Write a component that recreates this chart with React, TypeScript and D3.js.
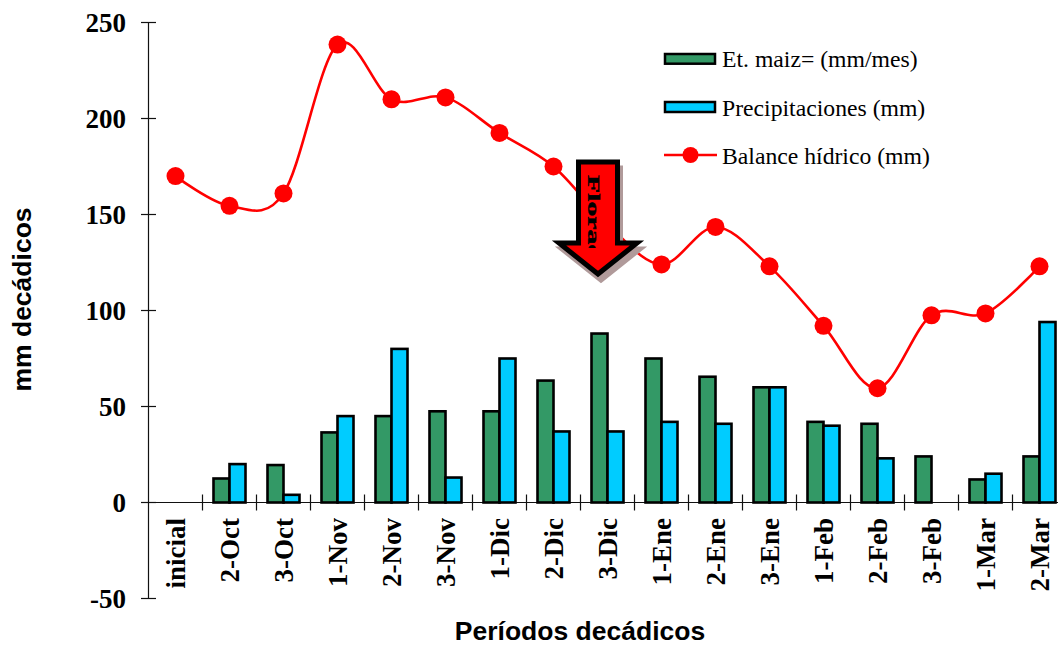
import React from "react";
import * as d3 from "d3";

const categories = ["inicial","2-Oct","3-Oct","1-Nov","2-Nov","3-Nov","1-Dic","2-Dic","3-Dic","1-Ene","2-Ene","3-Ene","1-Feb","2-Feb","3-Feb","1-Mar","2-Mar"];
const etMaiz = [null,12.5,19.5,36.5,45,47.5,47.5,63.5,88,75,65.5,60,42,41,24,12,24];
const precipitaciones = [null,20,4,45,80,13,75,37,37,42,41,60,40,23,null,15,94];
const balance = [170,154.5,161,238.5,210,211,192.5,175,145,124,143.5,123,92,59.5,97.5,98.5,123];
const yTicks = [-50,0,50,100,150,200,250];

const legendEntries = ["Et. maiz= (mm/mes)","Precipitaciones (mm)","Balance hídrico (mm)"];
const SERIF = "'Liberation Serif', serif";
const SANS = "'Liberation Sans', sans-serif";
const ARROW = "M578.5,162 H617.5 V243 H637 L598,274 L559,243 H578.5 Z";

export default function App() {
  const y = d3.scaleLinear().domain([-50, 250]).range([598.5, 22.5]);
  const x = d3.scaleBand<string>().domain(categories).range([148.5, 148.5 + 54 * categories.length]);
  const bw = 16;
  const cx = (i: number) => x(categories[i])! + x.bandwidth() / 2;
  const line = d3.line<number>().x((_, i) => cx(i)).y(d => y(d)).curve(d3.curveCatmullRom.alpha(0));
  return (
    <svg width={1058} height={645} style={{ position: "fixed", left: 0, top: 0, background: "#fff" }}>
      {/* axes */}
      <g stroke="#111" strokeWidth={1.2}>
        <line x1={148.5} x2={148.5} y1={22.5} y2={598.5} />
        {yTicks.map(t => <line key={t} x1={141} x2={156} y1={y(t)} y2={y(t)} />)}
        <line x1={141} x2={1058} y1={y(0)} y2={y(0)} />
        {categories.map((c, i) => i > 0 && (
          <line key={c} x1={x(c)} x2={x(c)} y1={y(0) - 8} y2={y(0) + 8} />
        ))}
      </g>
      {/* paired bars */}
      <g stroke="#000" strokeWidth={2.6}>
        {etMaiz.map((v, i) => v != null && (
          <rect key={i} x={cx(i) - bw} width={bw} y={y(v)} height={y(0) - y(v)} fill="#339966" />
        ))}
        {precipitaciones.map((v, i) => v != null && (
          <rect key={i} x={cx(i)} width={bw} y={y(v)} height={y(0) - y(v)} fill="#00ccff" />
        ))}
      </g>
      {/* water balance line */}
      <path d={line(balance)!} fill="none" stroke="#ff0000" strokeWidth={2.6} />
      {balance.map((v, i) => <circle key={i} cx={cx(i)} cy={y(v)} r={9} fill="#ff0000" />)}
      {/* tick labels */}
      <g fontFamily={SERIF} fontWeight="bold" fontSize={27} fill="#000">
        {yTicks.map(t => (
          <text key={t} x={126} y={y(t)} dy="0.36em" textAnchor="end">{t}</text>
        ))}
        {categories.map((c, i) => (
          <text key={c} transform={`translate(${cx(i) + 9.5},518) rotate(-90)`} textAnchor="end">{c}</text>
        ))}
      </g>
      {/* axis titles */}
      <g fontFamily={SANS} fontWeight="bold" fontSize={26.5} fill="#000">
        <text transform="translate(31,299.5) rotate(-90)" textAnchor="middle">mm decádicos</text>
        <text x={580} y={639.5} textAnchor="middle">Períodos decádicos</text>
      </g>
      {/* flowering arrow */}
      <g>
        <path d={ARROW} transform="translate(3,6)" fill="#b09a9a" stroke="#b09a9a" strokeWidth={5} />
        <path d={ARROW} fill="#ff0000" stroke="#000" strokeWidth={5} />
        <clipPath id="arrowText"><rect x={581} y={174} width={34} height={74} /></clipPath>
        <g clipPath="url(#arrowText)">
          <text transform="translate(588,175) rotate(90) scale(1.75,1)" fontFamily={SERIF} fontWeight="bold" fontSize={17} fill="#000" stroke="#000" strokeWidth={0.4}>Floración</text>
        </g>
      </g>
      {/* legend */}
      <g fontFamily={SERIF} fontSize={23.7} fill="#000">
        <rect x={665} y={54} width={50} height={9.7} fill="#339966" stroke="#000" strokeWidth={2.5} />
        <rect x={665} y={102} width={50} height={10} fill="#00ccff" stroke="#000" strokeWidth={2.5} />
        <line x1={664} x2={717} y1={155} y2={155} stroke="#ff0000" strokeWidth={2.6} />
        <circle cx={690.5} cy={155} r={8} fill="#ff0000" />
        {legendEntries.map((t, i) => <text key={t} x={722} y={67 + i * 48.5}>{t}</text>)}
      </g>
    </svg>
  );
}
